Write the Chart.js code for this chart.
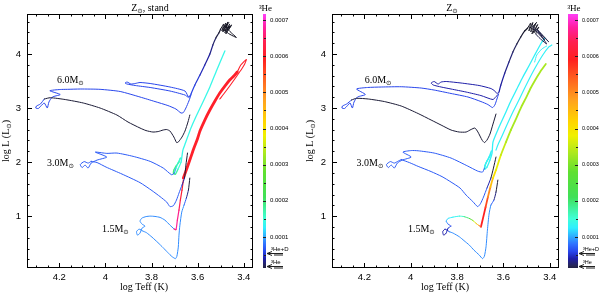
<!DOCTYPE html>
<html>
<head>
<meta charset="utf-8">
<script src="https://cdn.jsdelivr.net/npm/chart.js@4.4.1/dist/chart.umd.min.js"></script>
<style>
  body { margin: 0; background: #fff; overflow: hidden; }
  #wrap { position: relative; width: 600px; height: 296px; }
  canvas { position: absolute; top: 0; }
</style>
</head>
<body>
<div id="wrap">
  <canvas id="left" width="300" height="296" style="left:0"></canvas>
  <canvas id="right" width="300" height="296" style="left:300px"></canvas>
  <canvas id="cbLeft" width="45" height="296" style="left:255px"></canvas>
  <canvas id="cbRight" width="40" height="296" style="left:560px"></canvas>
</div>
<script>
// tick labels
const xTicks = [4.2, 4, 3.8, 3.6, 3.4]
const yTicks = [1, 2, 3, 4]
const cbTicks = [0.0001, 0.0002, 0.0003, 0.0004, 0.0005, 0.0006, 0.0007]
const cbMarks = [0.000057, 0.00002]
const cbMarkLabels = ['\u00b3He+D', '\u00b3He']

// tracks: [log Teff, log L, 3He]  (3He carried forward when omitted)
// --- Z sun, stand ---
const s6Pms = [[3.634,2.870,1e-5],[3.642,2.741],[3.655,2.574],[3.668,2.463],[3.683,2.375],[3.691,2.36],[3.703,2.463],[3.720,2.574],[3.734,2.602],[3.750,2.593],[3.771,2.565],[3.794,2.556],[3.824,2.583],[3.850,2.630],[3.902,2.741],[3.950,2.870],[4.023,3.000],[4.096,3.093],[4.174,3.157],[4.239,3.191],[4.265,3.167]]
const s6Ms = [[4.265,3.167,6e-5],[4.282,3.074],[4.299,3.037],[4.302,3.000],[4.291,2.991],[4.278,3.046],[4.265,3.093],[4.252,3.000],[4.245,3.111],[4.230,3.204],[4.196,3.250],[4.241,3.320],[4.196,3.343],[4.165,3.346],[4.109,3.352],[4.023,3.346],[3.936,3.306],[3.850,3.204],[3.785,3.120],[3.729,3.046],[3.694,2.981],[3.672,2.907],[3.662,2.917],[3.651,3.000],[3.638,3.130],[3.629,3.241]]
const s6Loop = [[3.629,3.241,6e-5],[3.642,3.204],[3.655,3.241],[3.720,3.315],[3.806,3.380],[3.871,3.417],[3.906,3.444],[3.915,3.463],[3.906,3.481],[3.889,3.444],[3.871,3.454],[3.850,3.472],[3.806,3.454],[3.720,3.389],[3.655,3.315],[3.638,3.194],[3.629,3.259]]
const s6Agb = [[3.629,3.259,6e-5],[3.612,3.426,5.5e-5],[3.590,3.611,5e-5],[3.569,3.796,4e-5],[3.547,4.000,3.5e-5],[3.534,4.167,3e-5],[3.521,4.296,2e-5],[3.508,4.389,1e-5],[3.500,4.463,5e-6]]
const s6Tip = [[3.500,4.463,3e-6],[3.487,4.556],[3.495,4.426],[3.478,4.574],[3.491,4.407],[3.469,4.593],[3.482,4.389],[3.461,4.556],[3.478,4.370],[3.456,4.519],[3.474,4.407],[3.432,4.306],[3.465,4.444],[3.452,4.537],[3.487,4.426],[3.470,4.560],[3.484,4.500],[3.460,4.500],[3.478,4.481],[3.465,4.583]]
const s3Pms = [[3.644,2.167,1e-5],[3.651,1.944],[3.657,1.704],[3.668,1.574,7e-5],[3.681,1.426],[3.692,1.296],[3.705,1.194],[3.720,1.176],[3.734,1.259],[3.763,1.361],[3.798,1.472],[3.850,1.620],[3.928,1.778],[3.997,1.907],[4.036,1.991],[4.062,2.013]]
const s3Ms = [[4.062,2.013,7e-5],[4.075,1.981],[4.092,2.009],[4.109,1.954],[4.101,1.898],[4.088,1.944],[4.075,1.889],[4.062,1.981],[4.036,2.037],[3.994,2.093],[4.044,2.185],[3.994,2.161],[3.950,2.167],[3.880,2.106],[3.806,2.013],[3.749,1.889],[3.713,1.765],[3.701,1.796]]
const s3Late = [[3.701,1.796,9e-5],[3.694,1.889,1.2e-4],[3.685,1.981,1.4e-4],[3.675,2.074,1.5e-4],[3.681,2.000,1.6e-4],[3.694,1.926,1.8e-4],[3.703,1.852,1.9e-4],[3.705,1.787,2e-4],[3.696,1.778,1.9e-4],[3.685,1.870,1.6e-4],[3.672,2.000,1.4e-4],[3.668,2.111],[3.664,2.222],[3.653,2.352],[3.642,2.481],[3.629,2.630],[3.608,2.833],[3.577,3.111],[3.547,3.389],[3.517,3.704],[3.495,3.926],[3.482,4.056]]
const s15Pms = [[3.634,1.704,1e-5],[3.640,1.481],[3.649,1.333,5e-5],[3.659,1.204,9e-5],[3.669,1.074],[3.677,0.833],[3.681,0.648],[3.684,0.426],[3.690,0.259],[3.696,0.213],[3.711,0.250],[3.729,0.324],[3.750,0.417],[3.772,0.509],[3.798,0.611],[3.822,0.694],[3.837,0.722]]
const s15Ms = [[3.837,0.722,9e-5],[3.854,0.759],[3.865,0.713],[3.861,0.648],[3.850,0.685],[3.841,0.778],[3.828,0.815],[3.841,0.852],[3.850,0.907],[3.842,0.963],[3.824,0.991],[3.806,1.000],[3.785,0.994],[3.763,0.976],[3.742,0.926],[3.720,0.833],[3.703,0.765]]
const s15Rgb = [[3.703,0.765,6.6e-4],[3.694,0.750,6.7e-4],[3.688,0.926,6.8e-4],[3.681,1.111,6.6e-4],[3.675,1.296,6.3e-4],[3.668,1.481,6e-4],[3.662,1.667]]
const s15Agb = [[3.662,1.704,6e-4],[3.646,1.889],[3.631,2.074],[3.616,2.259],[3.601,2.426],[3.590,2.574],[3.569,2.778],[3.547,2.963],[3.525,3.130],[3.504,3.278],[3.482,3.407],[3.461,3.519],[3.443,3.593],[3.428,3.667]]
const s15Flash = [[3.428,3.667,6e-4],[3.413,3.796],[3.389,3.898],[3.396,3.815],[3.409,3.722],[3.430,3.593],[3.461,3.407],[3.487,3.259],[3.504,3.167]]

// --- Z sun ---
const z6Pms = [[3.632,2.889,1e-5],[3.645,2.704],[3.658,2.519],[3.671,2.407],[3.682,2.361],[3.692,2.407],[3.710,2.556],[3.723,2.630],[3.740,2.602],[3.761,2.556],[3.791,2.556],[3.826,2.593],[3.869,2.685],[3.912,2.778],[3.968,2.898],[4.041,3.037],[4.114,3.120],[4.183,3.167],[4.234,3.180],[4.256,3.148]]
const z6Ms = [[4.256,3.148,6e-5],[4.277,3.074],[4.295,3.037],[4.297,3.000],[4.286,2.991],[4.273,3.046],[4.262,3.093],[4.252,3.000],[4.245,3.111],[4.230,3.204],[4.196,3.250],[4.234,3.352],[4.187,3.380],[4.127,3.389],[4.041,3.394],[3.955,3.370],[3.899,3.333],[3.826,3.269],[3.753,3.204],[3.697,3.120],[3.667,3.065],[3.647,3.009],[3.637,3.056],[3.628,3.167],[3.621,3.259]]
const z6Loop = [[3.621,3.259,4e-5],[3.632,3.213],[3.645,3.157],[3.697,3.231],[3.761,3.296],[3.826,3.352],[3.869,3.389],[3.903,3.426],[3.912,3.463],[3.899,3.491],[3.882,3.444],[3.869,3.481],[3.847,3.491],[3.783,3.463],[3.705,3.417],[3.654,3.361],[3.637,3.315],[3.628,3.269],[3.619,3.296]]
const z6Agb = [[3.619,3.296,4e-5],[3.611,3.426],[3.594,3.648,3.5e-5],[3.576,3.852,3e-5],[3.559,4.037,2.5e-5],[3.542,4.185,2e-5],[3.525,4.315,1e-5],[3.508,4.426,5e-6],[3.495,4.481,3e-6]]
const z6Tip = [[3.495,4.481,3e-6],[3.482,4.574],[3.490,4.426],[3.473,4.583],[3.482,4.407],[3.460,4.574],[3.477,4.370],[3.452,4.546],[3.469,4.389],[3.447,4.500],[3.460,4.370],[3.413,4.185,3e-5],[3.452,4.426,3e-6],[3.404,4.222,3e-5],[3.456,4.463,3e-6],[3.422,4.259,3e-5],[3.473,4.500,3e-6],[3.456,4.583]]
const z3Pms = [[3.632,2.093,1e-5],[3.643,1.889],[3.654,1.704],[3.671,1.519,7e-5],[3.686,1.352],[3.699,1.231],[3.711,1.176],[3.732,1.269],[3.761,1.389],[3.787,1.519],[3.826,1.630],[3.865,1.731],[3.912,1.824],[3.968,1.920],[4.006,1.991],[4.041,2.046]]
const z3Ms = [[4.041,2.046,7e-5],[4.054,2.019],[4.071,1.981],[4.088,2.009],[4.105,1.954],[4.097,1.898],[4.084,1.944],[4.071,1.889],[4.058,1.981],[4.037,2.037],[3.998,2.093],[4.034,2.185],[3.998,2.213],[3.968,2.209],[3.899,2.167],[3.826,2.074],[3.754,1.926],[3.711,1.833],[3.690,1.815],[3.682,1.889]]
const z3Late = [[3.682,1.889,1e-4],[3.675,1.981,1.2e-4],[3.662,2.093,1.3e-4],[3.652,2.204],[3.658,2.111],[3.671,2.019,1.35e-4],[3.680,1.935,1.4e-4],[3.680,1.870],[3.671,1.907,1.35e-4],[3.658,2.037,1.3e-4],[3.649,2.167],[3.645,2.370],[3.628,2.556],[3.611,2.722],[3.589,2.926],[3.568,3.130],[3.542,3.352],[3.516,3.574],[3.490,3.778],[3.465,3.981],[3.439,4.185],[3.422,4.296]]
const zCyan = [[3.632,2.222,1.3e-4],[3.624,2.315],[3.606,2.481],[3.585,2.685],[3.559,2.926],[3.533,3.148],[3.508,3.370],[3.482,3.593],[3.456,3.796],[3.430,3.981],[3.404,4.130],[3.391,4.167]]
const zHook = [[3.465,3.852,1.3e-4],[3.456,3.981],[3.434,4.093],[3.413,4.148]]
const z15Pms = [[3.624,1.667,1e-5],[3.632,1.444],[3.641,1.296,5e-5],[3.654,1.204,9e-5],[3.662,1.037],[3.669,0.741],[3.675,0.432],[3.682,0.259],[3.690,0.213],[3.704,0.278],[3.727,0.370],[3.747,0.463],[3.770,0.546],[3.790,0.617],[3.817,0.685],[3.834,0.713]]
const z15Ms = [[3.834,0.713,5e-5],[3.852,0.759,4e-5],[3.862,0.713],[3.858,0.648],[3.847,0.685],[3.839,0.778,5e-5],[3.826,0.815,6e-5],[3.839,0.852,7e-5],[3.847,0.907,1e-4],[3.839,0.957,1.2e-4],[3.818,0.981,1.3e-4],[3.790,1.000,1.4e-4],[3.770,0.991,1.7e-4],[3.747,0.957,2.2e-4],[3.731,0.917,3.2e-4],[3.718,0.865,4e-4],[3.705,0.824,5e-4],[3.697,0.802,5.8e-4]]
const z15Rgb = [[3.697,0.802,5.8e-4],[3.688,0.963,6e-4],[3.677,1.167,5.8e-4],[3.667,1.352,5.3e-4],[3.656,1.537,4.7e-4],[3.645,1.704,4.2e-4],[3.632,1.852,3.9e-4],[3.611,2.130,3.6e-4],[3.589,2.370,3.4e-4],[3.568,2.593,3.3e-4],[3.546,2.796],[3.525,3.000],[3.503,3.185],[3.482,3.370],[3.460,3.537],[3.439,3.685],[3.417,3.815]]

// mass labels [text, log Teff, log L]
const standLabels = [['6.0', 4.21, 3.454], ['3.0', 4.253, 1.935], ['1.5', 4.015, 0.704]]
const solarLabels = [['6.0', 4.199, 3.454], ['3.0', 4.234, 1.935], ['1.5', 4.012, 0.704]]

// colour map for 3He
const stops = [
  [0, '#101018'], [0.00002, '#262654'], [0.00004, '#1e1ea8'], [0.00006, '#2846ec'],
  [0.00008, '#3070ff'], [0.0001, '#30a8ff'], [0.000125, '#30eeff'], [0.00015, '#40ffd8'],
  [0.00018, '#40f09a'], [0.00021, '#40e058'], [0.00028, '#60e030'], [0.00033, '#a8e820'],
  [0.00038, '#f0f000'], [0.00042, '#ffd400'], [0.00048, '#ffa020'], [0.00053, '#ff6a20'],
  [0.00059, '#ff2020'], [0.00064, '#ff2050'], [0.00068, '#ff20a0'], [0.00072, '#ff40ff']
].map(([v, c]) => [v, [1, 3, 5].map(i => parseInt(c.substr(i, 2), 16))])

function heColor(v) {
  if (v <= stops[0][0]) v = stops[0][0]
  for (let i = 1; i < stops.length; i++) {
    if (v <= stops[i][0] || i === stops.length - 1) {
      const [v0, c0] = stops[i - 1], [v1, c1] = stops[i]
      const t = Math.max(0, Math.min(1, (v - v0) / (v1 - v0)))
      return 'rgb(' + c0.map((c, k) => Math.round(c + (c1[k] - c) * t)).join(',') + ')'
    }
  }
}

const serif = "'Liberation Serif', 'DejaVu Serif', serif"
const sans = "'Liberation Sans', Arial, sans-serif"
const sym = "'DejaVu Sans', sans-serif"

function fill(pts) {
  let h = pts[0][2]
  return pts.map(p => { if (p[2] !== undefined) h = p[2]; return {x: p[0], y: p[1], h: h} })
}

function runs(ctx, parts, x, y, align) {
  let w = 0
  const ws = parts.map(p => { ctx.font = p[1]; const m = ctx.measureText(p[0]).width; w += m; return m })
  let cx = align === 'center' ? x - w / 2 : x
  parts.forEach((p, i) => { ctx.font = p[1]; ctx.fillText(p[0], cx, y + (p[2] || 0)); cx += ws[i] })
}

function panel(id, tracks, cfg) {
  const datasets = tracks.map(([pts, w]) => {
    const d = fill(pts)
    return {
      data: d, showLine: true, pointRadius: 0, borderWidth: w, tension: 0.2,
      borderColor: '#000', borderCapStyle: 'round', borderJoinStyle: 'round',
      segment: {borderColor: c => heColor((d[c.p0DataIndex].h + d[c.p1DataIndex].h) / 2)}
    }
  })
  const decor = {
    id: 'decor',
    afterDraw(chart) {
      const {ctx, chartArea: a, scales: {x, y}} = chart
      ctx.save()
      ctx.strokeStyle = '#000'
      ctx.lineWidth = 1
      ctx.strokeRect(a.left + 0.5, a.top + 0.5, a.right - a.left - 1, a.bottom - a.top - 1)
      ctx.beginPath()
      for (let i = Math.ceil(x.min / 0.05 - 1e-6); i * 0.05 <= x.max + 1e-9; i++) {
        const px = Math.round(x.getPixelForValue(i * 0.05)) + 0.5, len = i % 4 ? 2.5 : 5
        ctx.moveTo(px, a.bottom); ctx.lineTo(px, a.bottom - len)
        ctx.moveTo(px, a.top); ctx.lineTo(px, a.top + len)
      }
      for (let i = Math.ceil(y.min / 0.2 - 1e-6); i * 0.2 <= y.max + 1e-9; i++) {
        const py = Math.round(y.getPixelForValue(i * 0.2)) + 0.5, len = i % 5 ? 2.5 : 5
        ctx.moveTo(a.left, py); ctx.lineTo(a.left + len, py)
        ctx.moveTo(a.right, py); ctx.lineTo(a.right - len, py)
      }
      ctx.stroke()

      ctx.fillStyle = '#000'
      ctx.textBaseline = 'alphabetic'
      cfg.labels.forEach(([m, t, l]) => {
        runs(ctx, [[m + 'M', '10px ' + serif], ['\u2299', '6.5px ' + sym, 2]], x.getPixelForValue(t), y.getPixelForValue(l), 'left')
      })
      runs(ctx, cfg.title, cfg.titleX, 10.5, 'center')
      runs(ctx, [['log Teff (K)', '10px ' + serif]], cfg.xTitleX, 290, 'center')
      ctx.translate(cfg.yTitleX, (a.top + a.bottom) / 2)
      ctx.rotate(-Math.PI / 2)
      runs(ctx, [['log L (L', '10px ' + serif], ['\u2299', '6.5px ' + sym, 2], [')', '10px ' + serif]], 0, 3.5, 'center')
      ctx.restore()
    }
  }
  return new Chart(document.getElementById(id), {
    type: 'scatter',
    data: {datasets},
    options: {
      responsive: false, animation: false, events: [], devicePixelRatio: 1,
      layout: {padding: {left: 0, right: cfg.padRight, top: 14, bottom: 0}},
      plugins: {legend: {display: false}, tooltip: {enabled: false}},
      scales: {
        x: {
          reverse: true, min: 3.36, max: 4.34,
          afterFit: s => { s.height = 28 },
          afterBuildTicks: s => { s.ticks = xTicks.map(v => ({value: v})) },
          grid: {display: false, drawTicks: false}, border: {display: false},
          ticks: {padding: 4, color: '#000', font: {family: sans, size: 9.5}, maxRotation: 0,
                  callback: v => String(+v.toFixed(1))}
        },
        y: {
          min: 0.04, max: 4.74,
          afterFit: s => { s.width = cfg.yWidth },
          afterBuildTicks: s => { s.ticks = yTicks.map(v => ({value: v})) },
          grid: {display: false, drawTicks: false}, border: {display: false},
          ticks: {padding: 6, color: '#000', font: {family: sans, size: 9.5}, callback: v => String(v)}
        }
      }
    },
    plugins: [decor]
  })
}

function colorbar(id, axisWidth, fontSize) {
  const bar = {
    id: 'bar',
    beforeDatasetsDraw(chart) {
      const {ctx, chartArea: a, scales: {y}} = chart
      for (let py = Math.floor(a.top); py < a.bottom; py++) {
        ctx.fillStyle = heColor(y.getValueForPixel(py + 0.5))
        ctx.fillRect(a.left, py, a.right - a.left, 1)
      }
    },
    afterDraw(chart) {
      const {ctx, chartArea: a, scales: {y}} = chart
      ctx.save()
      ctx.strokeStyle = '#222'
      ctx.lineWidth = 1
      ctx.beginPath()
      for (let v = 0.00005; v < y.max; v += 0.00005) {
        const py = Math.round(y.getPixelForValue(v)) + 0.5
        const len = Math.round(v / 0.00005) % 2 ? 2 : 3
        ctx.moveTo(a.right, py); ctx.lineTo(a.right - len, py)
      }
      ctx.stroke()
      ctx.fillStyle = '#000'
      runs(ctx, [['\u00b3He', '9px ' + serif]], (a.left + a.right) / 2 + 1, 11, 'center')
      ctx.font = fontSize + 'px ' + sans
      cbMarks.forEach((v, i) => {
        const py = Math.round(y.getPixelForValue(v)) + 0.5
        ctx.fillText(cbMarkLabels[i], a.right + 5, py - 2.5)
        ctx.beginPath()
        ctx.moveTo(a.right + 17, py); ctx.lineTo(a.right + 1, py)
        ctx.moveTo(a.right + 6, py - 2); ctx.lineTo(a.right + 1, py); ctx.lineTo(a.right + 6, py + 2)
        ctx.moveTo(a.right + 8, py + 1.5); ctx.lineTo(a.right + 17, py + 1.5)
        ctx.stroke()
      })
      ctx.restore()
    }
  }
  return new Chart(document.getElementById(id), {
    type: 'scatter',
    data: {datasets: []},
    options: {
      responsive: false, animation: false, events: [], devicePixelRatio: 1,
      layout: {padding: {left: 8, right: 0, top: 14, bottom: 28}},
      plugins: {legend: {display: false}, tooltip: {enabled: false}},
      scales: {
        x: {display: false, min: 0, max: 1},
        y: {
          position: 'right', min: 0.0000143, max: 0.0007166,
          afterFit: s => { s.width = axisWidth },
          afterBuildTicks: s => { s.ticks = cbTicks.map(v => ({value: v})) },
          grid: {display: false, drawTicks: false}, border: {display: false},
          ticks: {padding: 4, color: '#000', font: {family: sans, size: fontSize}, callback: v => v.toFixed(4)}
        }
      }
    },
    plugins: [bar]
  })
}

panel('left', [
  [s6Pms, 1], [s3Pms, 1], [s15Pms, 1],
  [s6Ms, 1], [s6Loop, 1], [s6Agb, 1.2], [s6Tip, 1],
  [s3Ms, 1], [s3Late, 1.3],
  [s15Ms, 1], [s15Rgb, 1.2], [s15Agb, 2.8], [s15Flash, 1.1]
], {
  padRight: 47, yWidth: 27, titleX: 150, xTitleX: 144, yTitleX: 5.5, labels: standLabels,
  title: [['Z', '10px ' + serif], ['\u2299', '6.5px ' + sym, 2], [', stand', '10px ' + serif]]
})

panel('right', [
  [z6Pms, 1], [z3Pms, 1], [z15Pms, 1],
  [z6Ms, 1], [z6Loop, 1], [z6Agb, 1.2], [z6Tip, 1],
  [z3Ms, 1], [z3Late, 1.3], [zCyan, 1.2], [zHook, 1],
  [z15Ms, 1], [z15Rgb, 1.8]
], {
  padRight: 41, yWidth: 32, titleX: 152, xTitleX: 145, yTitleX: 9.5, labels: solarLabels,
  title: [['Z', '10px ' + serif], ['\u2299', '6.5px ' + sym, 2]]
})

colorbar('cbLeft', 34, 6)
colorbar('cbRight', 22, 5.5)
</script>
</body>
</html>
